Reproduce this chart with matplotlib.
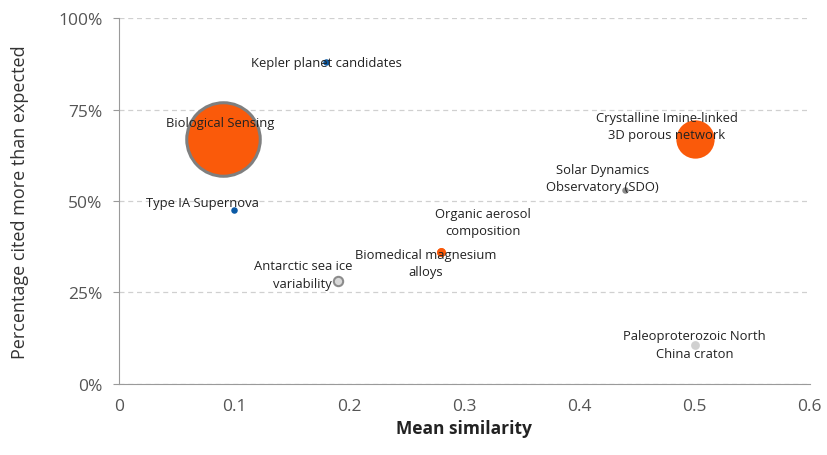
import matplotlib.pyplot as plt
from matplotlib.ticker import FuncFormatter

plt.rcParams['font.family'] = ['Open Sans', 'DejaVu Sans']

# data
labels = ["Kepler planet candidates", "Biological Sensing", "Type IA Supernova",
          "Crystalline Imine-linked\n3D porous network", "Solar Dynamics\nObservatory (SDO)",
          "Organic aerosol\ncomposition", "Biomedical magnesium\nalloys",
          "Antarctic sea ice\nvariability", "Paleoproterozoic North\nChina craton"]
mean_sim = [0.18, 0.09, 0.10, 0.50, 0.44, 0.28, 0.28, 0.19, 0.50]
pct_cited = [0.88, 0.67, 0.475, 0.67, 0.53, 0.36, 0.36, 0.28, 0.105]
bubble = [22, 2800, 22, 760, 22, 40, 40, 45, 40]
groups = ["blue", "orange", "blue", "orange", "grey", "orange", "orange", "ring", "light"]

# label offsets in pixels relative to the point
offsets = [(0, 0), (-2, 16), (-32, 8), (-28, 13), (-23, 12), (42, 30), (-16, -11), (-35, 7), (0, 1)]

face = {"blue": "#0b5aa5", "orange": "#fa5a0a", "grey": "#8c8c8c", "ring": "#d9d9d9", "light": "#d0d0d0"}
edge = {"blue": "#0b5aa5", "orange": "#fa5a0a", "grey": "#8c8c8c", "ring": "#8c8c8c", "light": "#d0d0d0"}

fig = plt.figure(figsize=(8.27, 4.56), dpi=100)
ax = fig.add_axes([0.144, 0.156, 0.835, 0.802])

for i in range(len(labels)):
    ec = edge[groups[i]]
    lw = 1.5 if groups[i] == "ring" else 0
    if labels[i] == "Biological Sensing":
        ec, lw = "#7f7f7f", 2.2
    ax.scatter(mean_sim[i], pct_cited[i], s=bubble[i], color=face[groups[i]],
               edgecolors=ec, linewidths=lw, zorder=3)
for i in range(len(labels)):
    ax.annotate(labels[i], (mean_sim[i], pct_cited[i]), xytext=offsets[i],
                textcoords="offset pixels", ha="center", va="center",
                fontsize=9.4, color="#222222", zorder=4, linespacing=1.45)

ax.set_xlim(0, 0.6)
ax.set_ylim(0, 1.0)
ax.set_xticks([0, 0.1, 0.2, 0.3, 0.4, 0.5, 0.6])
ax.set_xticklabels(["0", "0.1", "0.2", "0.3", "0.4", "0.5", "0.6"])
ax.set_yticks([0, 0.25, 0.5, 0.75, 1.0])
ax.yaxis.set_major_formatter(FuncFormatter(lambda v, p: "%d%%" % round(v * 100)))
ax.grid(axis="y", color="#d0d0d0", linestyle=(0, (4, 3)), linewidth=0.9)
ax.set_axisbelow(True)

for s in ["top", "right"]:
    ax.spines[s].set_visible(False)
ax.spines["left"].set_color("#9a9a9a")
ax.spines["bottom"].set_color("#9a9a9a")
ax.tick_params(axis="y", length=4, color="#9a9a9a", labelsize=12.5, labelcolor="#555555", pad=8)
ax.tick_params(axis="x", length=0, labelsize=12.5, labelcolor="#555555", pad=10)

ax.set_xlabel("Mean similarity", fontsize=12.5, fontweight="bold", color="#222222", labelpad=4)
ax.set_ylabel("Percentage cited more than expected", fontsize=13, color="#333333", labelpad=21)

fig.savefig("out.png", dpi=100)
